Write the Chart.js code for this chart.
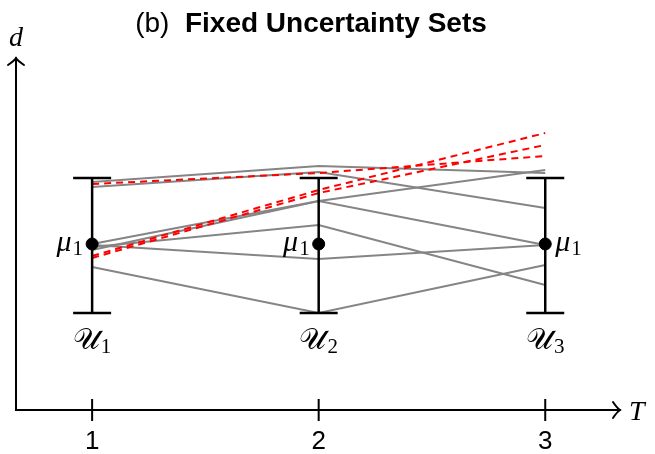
<!DOCTYPE html>
<html>
<head>
<meta charset="utf-8">
<script src="https://cdn.jsdelivr.net/npm/chart.js@4.4.0/dist/chart.umd.min.js"></script>
<style>
  html, body { margin: 0; padding: 0; background: #fff; }
  #wrap { width: 655px; height: 454px; }
</style>
</head>
<body>
<div id="wrap"><canvas id="myChart"></canvas></div>
<script>
// time steps and the fixed uncertainty set at each of them
const steps = [1, 2, 3];
const tickLabels = ['1', '2', '3'];
const setLow = [0.97, 0.97, 0.97];
const setHigh = [2.32, 2.32, 2.32];
const mu = [1.66, 1.66, 1.66];

// sampled realisations (gray)
const path1 = [2.28, 2.44, 2.37];
const path2 = [2.23, 2.38, 2.02];
const path3 = [1.66, 2.09, 2.40];
const path4 = [1.60, 2.09, 1.65];
const path5 = [1.63, 1.85, 1.25];
const path6 = [1.65, 1.51, 1.65];
const path7 = [1.43, 0.97, 1.45];

// violating realisations (red dashed)
const worst1 = [2.26, 2.37, 2.54];
const worst2 = [1.54, 2.20, 2.77];
const worst3 = [1.52, 2.17, 2.65];

const toPoints = ys => ys.map((y, i) => ({ x: steps[i], y: y }));

const datasets = [];

// mean markers
datasets.push({
    data: toPoints(mu),
    showLine: false,
    pointRadius: 6,
    pointBackgroundColor: '#000',
    pointBorderColor: '#000'
});

// error bars with caps
steps.forEach((s, i) => {
    datasets.push({
        data: [{ x: s, y: setLow[i] }, { x: s, y: setHigh[i] }],
        showLine: true,
        borderColor: '#000',
        borderWidth: 2.5,
        pointStyle: 'line',
        pointRadius: 19,
        pointBorderWidth: 2.5,
        pointBorderColor: '#000'
    });
});

[worst1, worst2, worst3].forEach(p => {
    datasets.push({
        data: toPoints(p),
        showLine: true,
        borderColor: '#ff0000',
        borderWidth: 2,
        borderDash: [7, 5],
        pointRadius: 0
    });
});

[path1, path2, path3, path4, path5, path6, path7].forEach(p => {
    datasets.push({
        data: toPoints(p),
        showLine: true,
        borderColor: '#858585',
        borderWidth: 2,
        pointRadius: 0
    });
});

const mathFont = '"Liberation Serif", "DejaVu Serif", serif';
const sansFont = '"Liberation Sans", "DejaVu Sans", sans-serif';

function subText(ctx, main, sub, x, y, align, mainSize, subSize, italic) {
    ctx.font = (italic ? 'italic ' : '') + mainSize + 'px ' + mathFont;
    const w1 = ctx.measureText(main).width;
    ctx.font = subSize + 'px ' + mathFont;
    const w2 = ctx.measureText(sub).width;
    const total = w1 + 1 + w2;
    let x0 = x;
    if (align === 'right') x0 = x - total;
    if (align === 'center') x0 = x - total / 2;
    ctx.textAlign = 'left';
    ctx.textBaseline = 'alphabetic';
    ctx.font = (italic ? 'italic ' : '') + mainSize + 'px ' + mathFont;
    ctx.fillText(main, x0, y);
    ctx.font = subSize + 'px ' + mathFont;
    ctx.fillText(sub, x0 + w1 + 1, y + 4);
}

function arrowHead(ctx, x, y, dir) {
    // TikZ-like curved arrow tip
    ctx.beginPath();
    if (dir === 'right') {
        ctx.moveTo(x - 7, y - 8);
        ctx.quadraticCurveTo(x - 3, y - 2, x, y);
        ctx.quadraticCurveTo(x - 3, y + 2, x - 7, y + 8);
    } else {
        ctx.moveTo(x - 8, y + 7);
        ctx.quadraticCurveTo(x - 2, y + 3, x, y);
        ctx.quadraticCurveTo(x + 2, y + 3, x + 8, y + 7);
    }
    ctx.stroke();
}

const sketch = {
    id: 'sketch',
    afterDraw(chart) {
        const ctx = chart.ctx;
        const a = chart.chartArea;
        const xs = chart.scales.x;
        const ys = chart.scales.y;
        ctx.save();
        ctx.strokeStyle = '#000';
        ctx.fillStyle = '#000';
        ctx.lineWidth = 2;
        ctx.lineCap = 'round';

        // axes
        ctx.beginPath();
        ctx.moveTo(a.left, a.top);
        ctx.lineTo(a.left, a.bottom);
        ctx.lineTo(a.right, a.bottom);
        ctx.stroke();
        arrowHead(ctx, a.right, a.bottom, 'right');
        arrowHead(ctx, a.left, a.top, 'up');

        // tick marks crossing the axis
        ctx.lineCap = 'butt';
        steps.forEach(s => {
            const px = xs.getPixelForValue(s);
            ctx.beginPath();
            ctx.moveTo(px, a.bottom - 11);
            ctx.lineTo(px, a.bottom + 11);
            ctx.stroke();
        });

        // axis names
        ctx.font = 'italic 28px ' + mathFont;
        ctx.textAlign = 'center';
        ctx.textBaseline = 'alphabetic';
        ctx.fillText('d', a.left, a.top - 12);
        ctx.textAlign = 'left';
        ctx.fillText('T', a.right + 9, a.bottom + 10);

        // mean and set labels
        steps.forEach((s, i) => {
            const px = xs.getPixelForValue(s);
            const py = ys.getPixelForValue(mu[i]);
            if (i < 2) {
                subText(ctx, 'μ', '1', px - 9, py + 7, 'right', 30, 21, true);
            } else {
                subText(ctx, 'μ', '1', px + 10, py + 7, 'left', 30, 21, true);
            }
            const pl = ys.getPixelForValue(setLow[i]);
            subText(ctx, '𝒰', String(i + 1), px, pl + 36, 'center', 30, 21, false);
        });

        // title: "(b)  Fixed Uncertainty Sets"
        ctx.textBaseline = 'alphabetic';
        ctx.textAlign = 'left';
        const t1 = '(b)  ';
        const t2 = 'Fixed Uncertainty Sets';
        ctx.font = '28px ' + sansFont;
        const w1 = ctx.measureText(t1).width;
        ctx.font = 'bold 28px ' + sansFont;
        const w2 = ctx.measureText(t2).width;
        const x0 = 311 - (w1 + w2) / 2;
        ctx.font = '28px ' + sansFont;
        ctx.fillText(t1, x0, 32);
        ctx.font = 'bold 28px ' + sansFont;
        ctx.fillText(t2, x0 + w1, 32);
        ctx.restore();
    }
};

new Chart(document.getElementById('myChart').getContext('2d'), {
    type: 'scatter',
    data: { datasets: datasets },
    options: {
        responsive: true,
        maintainAspectRatio: false,
        animation: false,
        layout: {
            autoPadding: false,
            padding: { left: 16, right: 35, top: 58, bottom: 0 }
        },
        scales: {
            x: {
                type: 'linear',
                min: 0.664,
                max: 3.33,
                afterBuildTicks: function (scale) {
                    scale.ticks = steps.map(v => ({ value: v }));
                },
                afterFit: function (scale) {
                    scale.height = 44;
                    scale.paddingLeft = 0;
                    scale.paddingRight = 0;
                },
                grid: { display: false, drawTicks: false },
                border: { display: false },
                ticks: {
                    padding: 16,
                    color: '#000',
                    maxRotation: 0,
                    font: { family: sansFont, size: 26 },
                    callback: function (value) {
                        return tickLabels[steps.indexOf(value)];
                    }
                }
            },
            y: {
                type: 'linear',
                display: false,
                min: 0,
                max: 3.52
            }
        },
        plugins: {
            legend: { display: false },
            tooltip: { enabled: false }
        }
    },
    plugins: [sketch]
});
</script>
</body>
</html>
